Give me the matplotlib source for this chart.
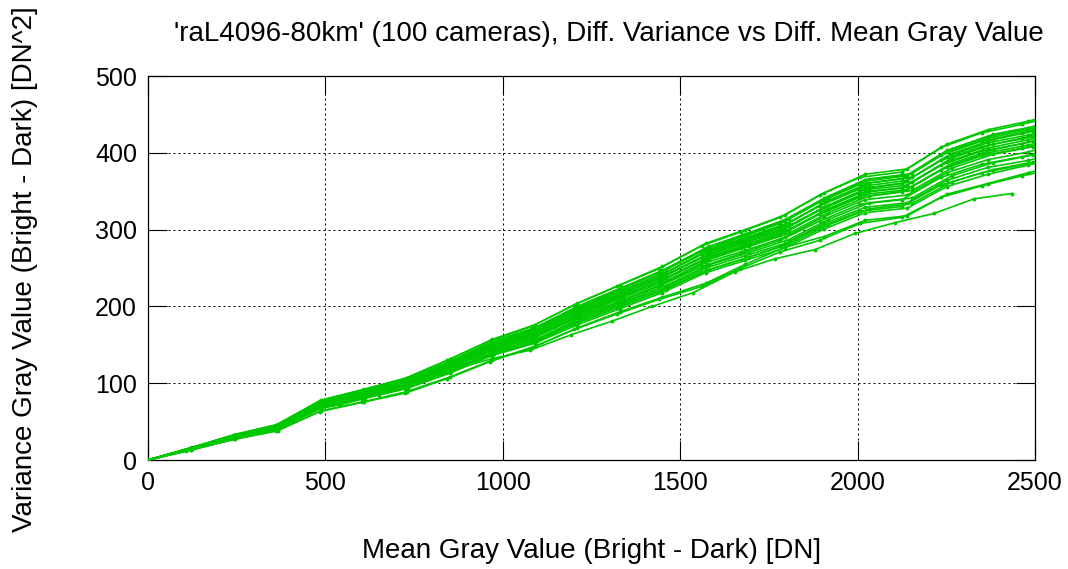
import matplotlib.pyplot as plt

plt.rcParams['font.family'] = ['Liberation Sans', 'DejaVu Sans']

# mean gray value steps (Bright - Dark) [DN], one grid per group of cameras
mean_a = [0, 122, 244, 365, 487, 608, 729, 850, 970, 1090, 1210, 1330, 1450, 1572,
          1684, 1795, 1906, 2021, 2140, 2251, 2367, 2480, 2595]
mean_b = [0, 123, 245, 367, 490, 612, 733, 855, 976, 1097, 1217, 1338, 1459, 1581,
          1694, 1806, 1917, 2033, 2153, 2265, 2381, 2495, 2611]
mean_d = [0, 121, 242, 362, 484, 604, 724, 844, 963, 1082, 1202, 1321, 1440, 1561,
          1672, 1782, 1893, 2007, 2125, 2235, 2350, 2463, 2577]
mean_c = [0, 108, 217, 325, 434, 542, 650, 756, 862, 970, 1077, 1192, 1309, 1421,
          1537, 1654, 1767, 1880, 1993, 2105, 2215, 2328, 2435]

# variance gray value (Bright - Dark) [DN^2] per camera
var_c01 = [0, 16, 33, 46, 78, 92, 107, 131, 157, 176, 204, 228, 252, 282, 300, 319, 348, 372, 379, 411, 430, 441, 455]
var_c02 = [0, 16, 33, 46, 77, 91, 106, 130, 155, 174, 202, 226, 249, 279, 297, 316, 345, 368, 375, 407, 426, 437, 450]
var_c03 = [0, 16, 32, 45, 77, 91, 105, 129, 155, 173, 201, 225, 248, 278, 296, 314, 343, 366, 373, 405, 424, 434, 448]
var_c04 = [0, 16, 32, 45, 76, 90, 105, 128, 154, 172, 200, 223, 247, 276, 294, 313, 341, 365, 371, 403, 421, 432, 446]
var_c05 = [0, 16, 32, 45, 76, 90, 104, 128, 153, 172, 199, 222, 246, 275, 293, 311, 339, 363, 370, 401, 419, 430, 444]
var_c06 = [0, 16, 32, 45, 76, 89, 104, 127, 152, 171, 198, 221, 244, 274, 291, 309, 338, 361, 368, 399, 417, 428, 441]
var_c07 = [0, 15, 32, 44, 75, 89, 103, 126, 152, 170, 197, 220, 243, 272, 290, 308, 336, 359, 366, 397, 415, 426, 439]
var_c08 = [0, 15, 32, 44, 75, 88, 103, 126, 151, 169, 196, 219, 242, 271, 288, 306, 334, 357, 364, 395, 413, 423, 437]
var_c09 = [0, 15, 31, 44, 74, 88, 102, 125, 150, 168, 195, 218, 241, 269, 287, 305, 332, 355, 362, 393, 411, 421, 435]
var_c10 = [0, 15, 31, 44, 74, 87, 102, 124, 149, 167, 194, 217, 239, 268, 285, 303, 331, 353, 360, 390, 408, 419, 432]
var_c11 = [0, 15, 31, 43, 74, 87, 101, 124, 148, 166, 193, 215, 238, 266, 284, 301, 329, 352, 358, 388, 406, 417, 430]
var_c12 = [0, 15, 31, 43, 73, 86, 101, 123, 148, 165, 192, 214, 237, 265, 282, 300, 327, 350, 356, 386, 404, 415, 428]
var_c13 = [0, 15, 31, 43, 73, 86, 100, 122, 147, 165, 191, 213, 236, 264, 281, 298, 325, 348, 354, 384, 402, 412, 425]
var_c14 = [0, 15, 31, 43, 73, 86, 100, 122, 146, 164, 190, 212, 234, 262, 279, 297, 324, 346, 352, 382, 400, 410, 423]
var_c15 = [0, 15, 31, 43, 72, 85, 99, 121, 145, 163, 189, 211, 233, 261, 278, 295, 322, 344, 351, 380, 398, 408, 421]
var_c16 = [0, 15, 30, 42, 72, 85, 98, 121, 144, 162, 188, 210, 232, 259, 276, 293, 320, 342, 349, 378, 396, 406, 419]
var_c17 = [0, 15, 30, 42, 71, 84, 97, 119, 143, 160, 186, 207, 229, 257, 273, 290, 317, 339, 345, 374, 391, 401, 414]
var_c18 = [0, 14, 30, 41, 70, 83, 96, 118, 141, 158, 184, 205, 227, 254, 270, 287, 313, 335, 341, 370, 387, 397, 410]
var_c19 = [0, 14, 30, 41, 70, 82, 96, 117, 141, 158, 183, 204, 226, 252, 269, 286, 311, 333, 339, 368, 385, 395, 407]
var_c20 = [0, 14, 29, 41, 69, 81, 95, 116, 139, 156, 181, 202, 223, 250, 266, 282, 308, 329, 335, 364, 381, 390, 403]
var_c21 = [0, 14, 29, 40, 69, 81, 94, 115, 138, 155, 180, 201, 222, 248, 264, 281, 306, 327, 334, 362, 378, 388, 400]
var_c22 = [0, 14, 29, 40, 68, 80, 93, 114, 137, 153, 177, 198, 219, 245, 261, 278, 303, 324, 330, 358, 374, 384, 396]
var_c23 = [0, 14, 29, 40, 67, 80, 93, 113, 136, 152, 176, 197, 218, 244, 260, 276, 301, 322, 328, 356, 372, 384, 396]
var_c24 = [0, 13, 27, 38, 64, 76, 89, 108, 130, 148, 172, 193, 212, 230, 255, 277, 291, 312, 318, 346, 360, 374, 386]
var_c25 = [0, 13, 27, 38, 63, 75, 87, 106, 128, 146, 170, 190, 209, 226, 250, 271, 286, 308, 316, 342, 357, 370, 381]
var_c26 = [0, 12, 26, 37, 63, 72, 85, 100, 118, 132, 143, 163, 181, 200, 218, 245, 262, 274, 295, 309, 321, 340, 347]

cameras = [
    (mean_a, var_c01), (mean_d, var_c02), (mean_b, var_c03), (mean_a, var_c04),
    (mean_a, var_c05), (mean_b, var_c06), (mean_d, var_c07), (mean_a, var_c08),
    (mean_b, var_c09), (mean_d, var_c10), (mean_a, var_c11), (mean_b, var_c12),
    (mean_d, var_c13), (mean_a, var_c14), (mean_b, var_c15), (mean_d, var_c16),
    (mean_a, var_c17), (mean_b, var_c18), (mean_d, var_c19), (mean_a, var_c20),
    (mean_b, var_c21), (mean_d, var_c22), (mean_a, var_c23), (mean_a, var_c24),
    (mean_d, var_c25), (mean_c, var_c26),
]

fig = plt.figure(figsize=(10.68, 5.69), dpi=100)
ax = fig.add_axes([148 / 1068, 1 - 460 / 569, 887 / 1068, 384 / 569])

for mean, var in cameras:
    ax.plot(mean, var, color='#00c800', lw=1.2, marker='o', ms=2.8, mew=0, zorder=3)

ax.set_xlim(0, 2500)
ax.set_ylim(0, 500)
ax.set_xticks([0, 500, 1000, 1500, 2000, 2500])
ax.set_yticks([0, 100, 200, 300, 400, 500])
ax.grid(True, color='black', lw=0.72, linestyle=(0, (2, 3)))
ax.tick_params(direction='in', length=13.5, width=0.8, top=True, right=True,
               labelsize=18, pad=8)
for s in ax.spines.values():
    s.set_linewidth(0.9)

fig.text(609 / 1068, 1 - 34 / 569, "'raL4096-80km' (100 cameras), Diff. Variance vs Diff. Mean Gray Value",
         ha='center', va='center', fontsize=20)
fig.text(592 / 1068, 1 - 551 / 569, 'Mean Gray Value (Bright - Dark) [DN]',
         ha='center', va='center', fontsize=20)
fig.text(25 / 1068, 1 - 269 / 569, 'Variance Gray Value (Bright - Dark) [DN^2]',
         ha='center', va='center', rotation=90, fontsize=20)

fig.savefig('out.png', dpi=100)
